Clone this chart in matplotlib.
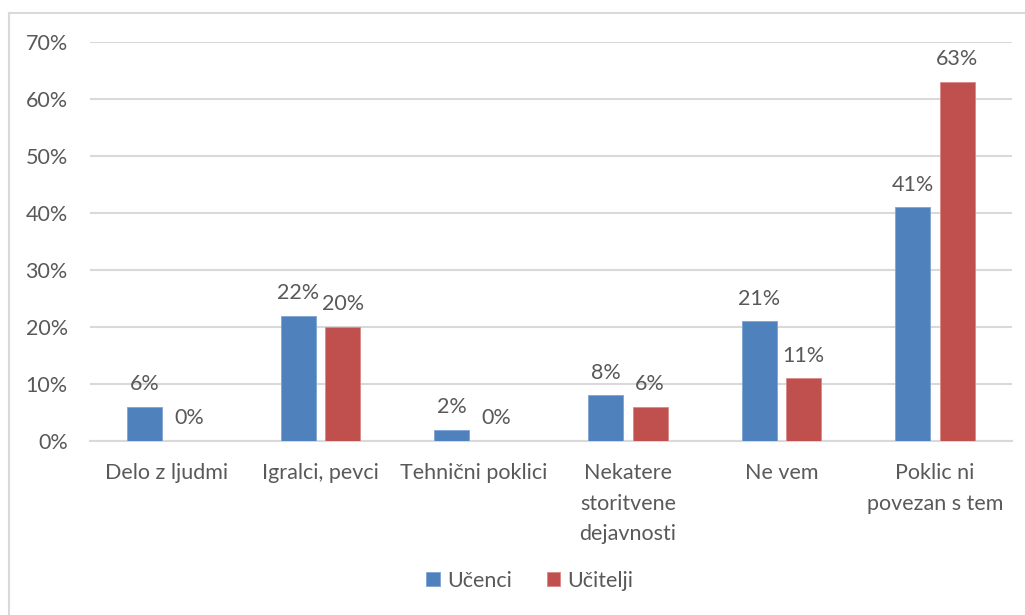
import matplotlib
matplotlib.use("Agg")
import matplotlib.pyplot as plt
import numpy as np
from matplotlib.lines import Line2D

categories = ["Delo z ljudmi", "Igralci, pevci", "Tehnični poklici",
              "Nekatere\nstoritvene\ndejavnosti", "Ne vem", "Poklic ni\npovezan s tem"]
ucenci = [6, 22, 2, 8, 21, 41]
ucitelji = [0, 20, 0, 6, 11, 63]
series_names = ["Učenci", "Učitelji"]
yticks = [0, 10, 20, 30, 40, 50, 60, 70]

BLUE = "#4F81BD"
RED = "#C0504D"
TXT = "#595959"
GRID = "#D9D9D9"
FS = 15.5

plt.rcParams['font.family'] = ['Lato', 'DejaVu Sans']

fig = plt.figure(figsize=(10.25, 6.15), dpi=100)
ax = fig.add_axes([90/1025, 1-441/615, (1012-90)/1025, (441-42)/615])

x = np.arange(len(categories))
w = 0.228
off = 0.145
b1 = ax.bar(x - off, ucenci, w, color=BLUE, edgecolor="#7FA3D3", linewidth=0.6, zorder=3, label=series_names[0])
b2 = ax.bar(x + off, ucitelji, w, color=RED, edgecolor="#D88A88", linewidth=0.6, zorder=3, label=series_names[1])

for bars, vals in ((b1, ucenci), (b2, ucitelji)):
    for r, v in zip(bars, vals):
        ax.annotate(f"{v}%", (r.get_x() + r.get_width()/2, v), xytext=(0, 9),
                    textcoords="offset points", ha="center", va="bottom",
                    fontsize=FS, color=TXT)

ax.set_xlim(-0.5, len(categories) - 0.5)
ax.set_ylim(0, 70)
ax.set_yticks(yticks)
ax.set_yticklabels([f"{t}%" for t in yticks])
ax.set_xticks(x)
ax.set_xticklabels(categories, linespacing=1.65, va="top")
ax.tick_params(axis="both", length=0, labelsize=FS, labelcolor=TXT)
ax.tick_params(axis="y", pad=16)
ax.tick_params(axis="x", pad=16)
ax.grid(axis="y", color=GRID, linewidth=1.5, zorder=0)
for s in ["top", "right", "left"]:
    ax.spines[s].set_visible(False)
ax.spines["bottom"].set_color(GRID)
ax.spines["bottom"].set_linewidth(1.5)

# outer chart border
fig.add_artist(Line2D([9/1025, 9/1025], [0, 1-13/615], color=GRID, linewidth=1.5))
fig.add_artist(Line2D([9/1025, 1], [1-13/615, 1-13/615], color=GRID, linewidth=1.5))

leg = fig.legend(handles=[b1, b2], labels=series_names, loc="center",
                 bbox_to_anchor=(530/1025, 1-581/615), ncol=2, frameon=False,
                 fontsize=FS, handlelength=0.62, handleheight=0.62,
                 handletextpad=0.35, columnspacing=1.6)
for t in leg.get_texts():
    t.set_color(TXT)

fig.savefig("out.png", dpi=100)
